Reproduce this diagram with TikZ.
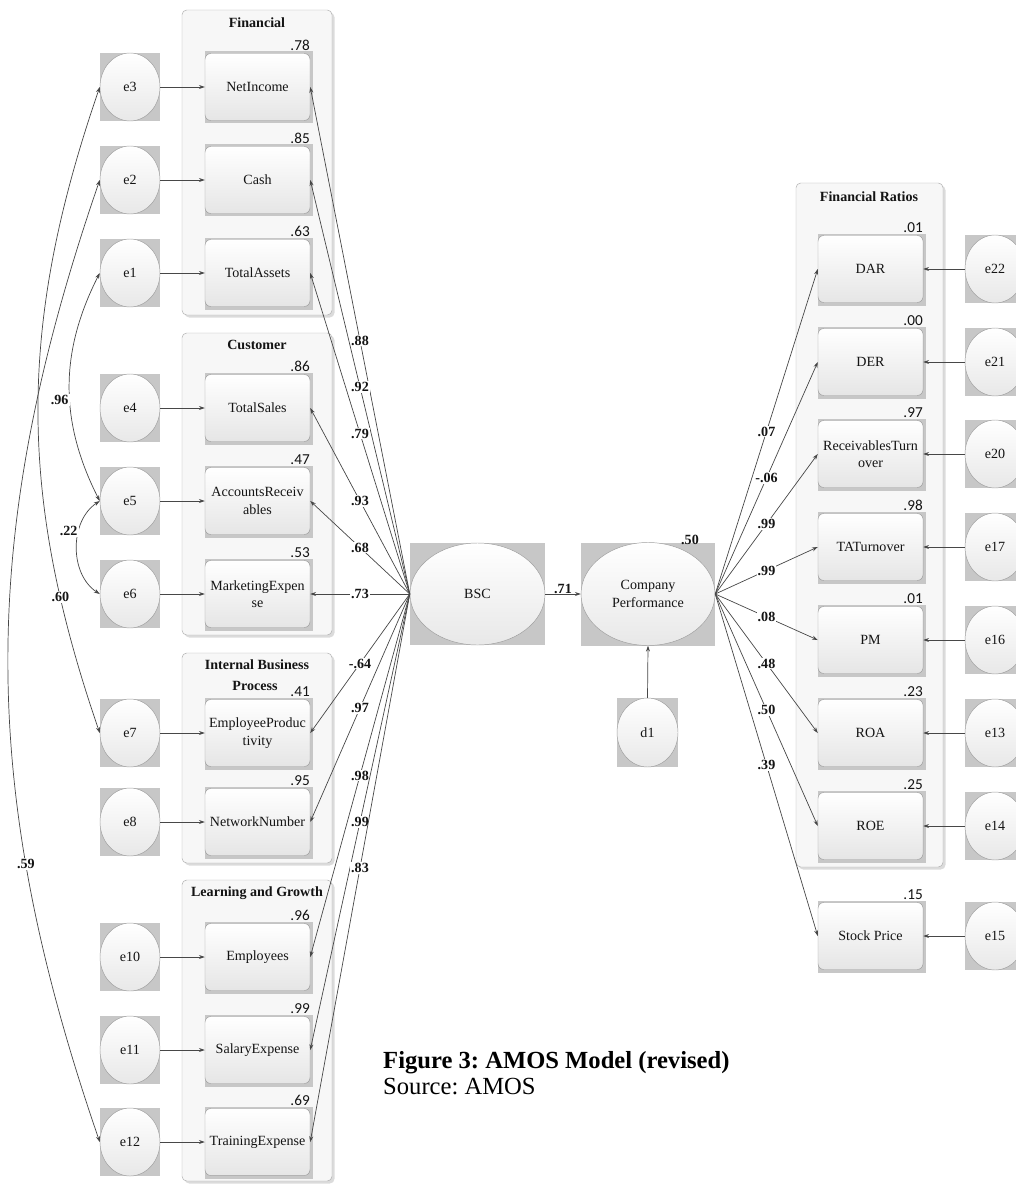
\documentclass[tikz,border=0pt]{standalone}
\usepackage{fontspec}
\setmainfont{Liberation Serif}
\newfontfamily\rsqfont{Carlito}
\usetikzlibrary{arrows.meta,shapes.geometric}
\frenchspacing
\newcommand{\ObsBox}[5]{%
  \fill[black!22] (#2-52.5,#3-35.5) rectangle (#2+55,#3+36.5);
  \node[obs] (#1) at (#2,#3) {#4};
  \node[rsq] (#1r) at (#2+52.5,#3-36) {#5};
}
\newcommand{\ErrNode}[4]{%
  \fill[black!22] (#2-30,#3-34) rectangle (#2+30,#3+34);
  \node[errn] (#1) at (#2,#3) {#4};
}
\newcommand{\GroupBox}[4]{%
  \fill[black!14, rounded corners=4pt] (#1+2.5,#2+2.5) rectangle (#3+2.5,#4+2.5);
  \draw[black!32, fill=black!3, rounded corners=4pt] (#1,#2) rectangle (#3,#4);
}
\begin{document}
\begin{tikzpicture}[x=0.03cm,y=-0.03cm, font=\fontsize{12}{15}\selectfont, text=black!92,
  obs/.style={draw=black!38, rounded corners=5pt, top color=white, bottom color=black!10,
    minimum width=3.15cm, minimum height=2.01cm, inner sep=1pt, align=center},
  errn/.style={ellipse, draw=black!38, top color=white, bottom color=black!9,
    minimum width=1.8cm, minimum height=2.04cm, inner sep=0pt},
  lat/.style={ellipse, draw=black!38, top color=white, bottom color=black!9, inner sep=0pt, align=center},
  rsq/.style={font=\rsqfont\fontsize{13}{14}\selectfont, inner sep=0pt, anchor=south east},
  ln/.style={draw=black!72, line width=0.6pt, -{Stealth[length=5pt,width=3.4pt]}},
  cov/.style={draw=black!72, line width=0.6pt, {Stealth[length=5pt,width=3.4pt]}-{Stealth[length=5pt,width=3.4pt]}},
  elab/.style={fill=white, inner sep=1pt, font=\fontsize{12}{13}\selectfont\bfseries},
  gtitle/.style={font=\fontsize{12}{14}\selectfont\bfseries, inner sep=0pt, align=center}
]
\useasboundingbox (0,0) rectangle (1016,1184);
\clip (0,0) rectangle (1016,1184);

% group frames
\GroupBox{182}{10}{332}{315}
\GroupBox{182}{333}{332}{635}
\GroupBox{182}{653}{332}{863}
\GroupBox{182}{880}{332}{1181}
\GroupBox{796}{183}{943}{867}

\node[gtitle] (tfin) at (257,23) {Financial};
\node[gtitle] (tcus) at (257,345) {Customer};
\node[gtitle] (tibp) at (257,665) {Internal Business};
\node[gtitle] (tibp2) at (255,686) {Process};
\node[gtitle] (tlg) at (257,893) {Learning and Growth};
\node[gtitle] (tfr) at (869,197) {Financial Ratios};

% observed boxes, left
\ObsBox{ni}{257.5}{87}{NetIncome}{.78}
\ObsBox{ca}{257.5}{180}{Cash}{.85}
\ObsBox{ta}{257.5}{273}{TotalAssets}{.63}
\ObsBox{ts}{257.5}{408}{TotalSales}{.86}
\ObsBox{ar}{257.5}{501}{AccountsReceiv\\ables}{.47}
\ObsBox{me}{257.5}{594}{MarketingExpen\\se}{.53}
\ObsBox{ep}{257.5}{733}{EmployeeProduc\\tivity}{.41}
\ObsBox{nn}{257.5}{822}{NetworkNumber}{.95}
\ObsBox{emp}{257.5}{957}{Employees}{.96}
\ObsBox{sal}{257.5}{1050}{SalaryExpense}{.99}
\ObsBox{tr}{257.5}{1142}{TrainingExpense}{.69}

% observed boxes, right
\ObsBox{dar}{870.5}{269}{DAR}{.01}
\ObsBox{der}{870.5}{362}{DER}{.00}
\ObsBox{rt}{870.5}{454}{ReceivablesTurn\\over}{.97}
\ObsBox{tat}{870.5}{547}{TATurnover}{.98}
\ObsBox{pm}{870.5}{640}{PM}{.01}
\ObsBox{roa}{870.5}{733}{ROA}{.23}
\ObsBox{roe}{870.5}{826}{ROE}{.25}
\ObsBox{sp}{870.5}{936}{Stock Price}{.15}

% error terms, left
\ErrNode{e3}{130}{87}{e3}
\ErrNode{e2}{130}{180}{e2}
\ErrNode{e1}{130}{273}{e1}
\ErrNode{e4}{130}{408}{e4}
\ErrNode{e5}{130}{501}{e5}
\ErrNode{e6}{130}{594}{e6}
\ErrNode{e7}{130}{733}{e7}
\ErrNode{e8}{130}{822}{e8}
\ErrNode{e10}{130}{957}{e10}
\ErrNode{e11}{130}{1050}{e11}
\ErrNode{e12}{130}{1142}{e12}

% error terms, right
\ErrNode{e22}{995}{269}{e22}
\ErrNode{e21}{995}{362}{e21}
\ErrNode{e20}{995}{454}{e20}
\ErrNode{e17}{995}{547}{e17}
\ErrNode{e16}{995}{640}{e16}
\ErrNode{e13}{995}{733}{e13}
\ErrNode{e14}{995}{826}{e14}
\ErrNode{e15}{995}{936}{e15}

% latent variables
\fill[black!22] (410,543) rectangle (545,645);
\node[lat, minimum width=4.05cm, minimum height=3.06cm] (bsc) at (477.5,594) {BSC};
\fill[black!22] (581,543) rectangle (715,646);
\node[lat, minimum width=4.02cm, minimum height=3.09cm] (cp) at (648,594) {Company\\Performance};
\node[elab, fill=none, anchor=south] (cpr) at (690,546) {.50};
\fill[black!22] (617,698) rectangle (678,767);
\node[lat, minimum width=1.83cm, minimum height=2.07cm] (d1) at (647.5,732.5) {d1};

% error arrows
\foreach \e/\b in {e3/ni,e2/ca,e1/ta,e4/ts,e5/ar,e6/me,e7/ep,e8/nn,e10/emp,e11/sal,e12/tr}
  \draw[ln] (\e.east) -- (\b.west);
\foreach \e/\b in {e22/dar,e21/der,e20/rt,e17/tat,e16/pm,e13/roa,e14/roe,e15/sp}
  \draw[ln] (\e.west) -- (\b.east);
\draw[ln] (d1.north) -- (cp.south);

% loadings
\foreach \b/\v in {ni/.88,ca/.92,ta/.79,ts/.93,ar/.68,me/.73,ep/-.64,nn/.97,emp/.98,sal/.99,tr/.83}
  \draw[ln] (bsc.west) -- node[elab] {\v} (\b.east);
\foreach \b/\v in {dar/.07,der/-.06,rt/.99,tat/.99,pm/.08,roa/.48,roe/.50,sp/.39}
  \draw[ln] (cp.east) -- node[elab] {\v} (\b.west);
\draw[ln] (bsc.east) -- node[elab, fill=none, above, yshift=-1pt] {.71} (cp.west);

% covariances
\draw[cov] (e3.west) to[bend right=19] node[elab, pos=0.8] {.60} (e7.west);
\draw[cov] (e2.west) to[bend right=19] node[elab, pos=0.72] {.59} (e12.west);
\draw[cov] (e1.west) to[bend right=27] node[elab, pos=0.56, anchor=east] {.96} (e5.west);
\draw[cov] (e5.west) to[bend right=57] node[elab, pos=0.35, anchor=east] {.22} (e6.west);

% caption
\node[anchor=west, font=\fontsize{21}{24}\selectfont\bfseries, text=black, inner sep=0pt] (cap) at (383,1063) {Figure 3: AMOS Model (revised)};
\node[anchor=west, font=\fontsize{21}{24}\selectfont, text=black, inner sep=0pt] (src) at (383,1087) {Source: AMOS};
\end{tikzpicture}
\end{document}
